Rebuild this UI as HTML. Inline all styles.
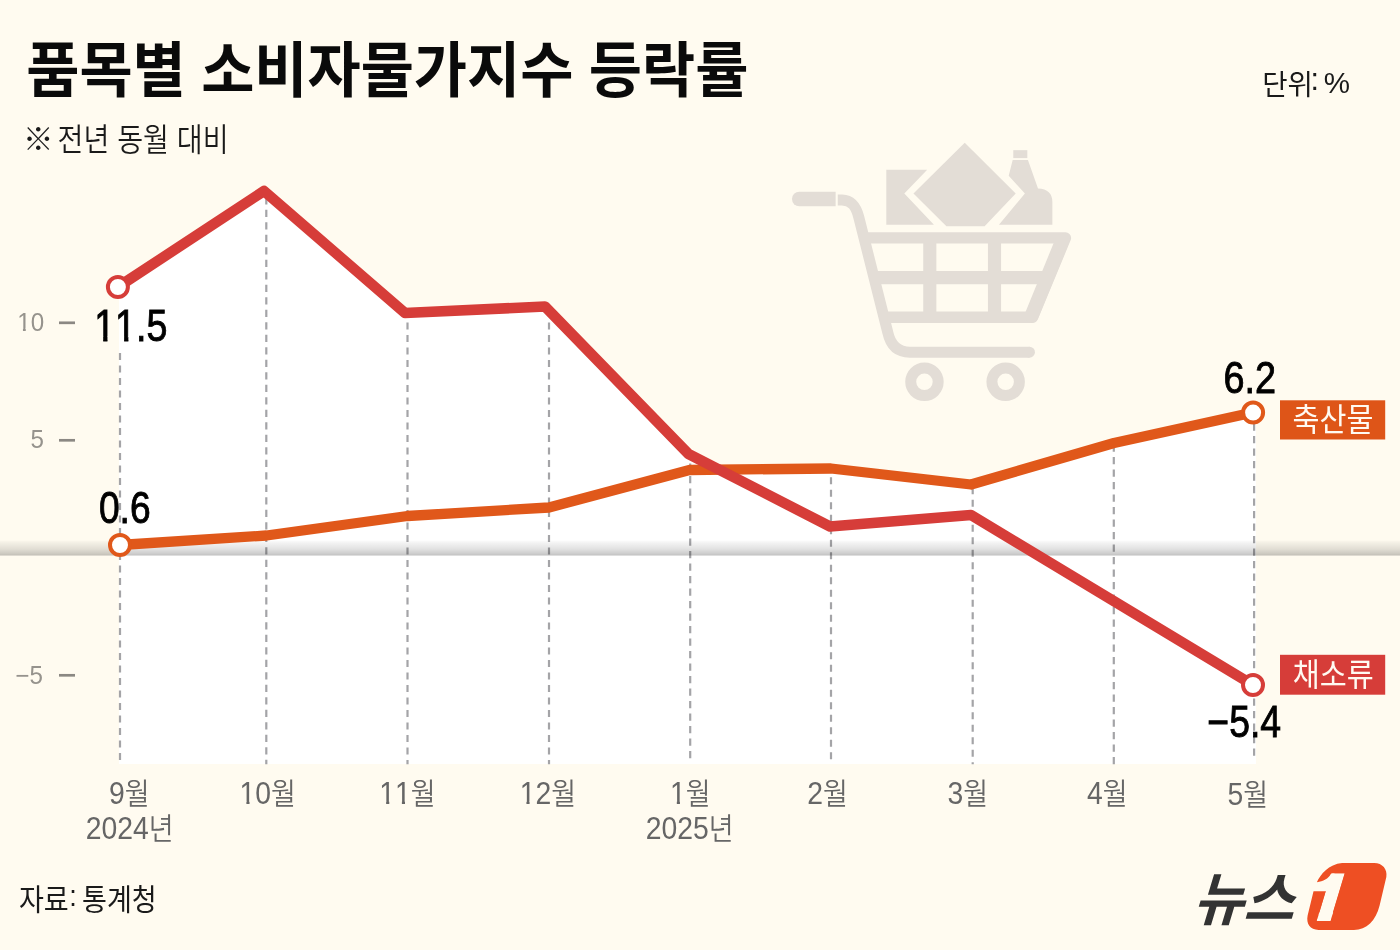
<!DOCTYPE html>
<html lang="ko">
<head>
<meta charset="utf-8">
<title>품목별 소비자물가지수 등락률</title>
<style>
  html, body { margin: 0; padding: 0; }
  body { width: 1400px; height: 950px; overflow: hidden; background: #fffbf0; }
  svg { display: block; }
  text { font-family: "Liberation Sans", "Noto Sans CJK KR", sans-serif; }
  .title { font-weight: 700; font-size: 60.8px; fill: #0a0a0a; word-spacing: -0.7px; }
  .sub { font-weight: 350; font-size: 32px; fill: #1a1a1a; }
  .unit { font-weight: 400; font-size: 28px; fill: #1a1a1a; }
  .src { font-weight: 400; font-size: 29.3px; fill: #1a1a1a; }
  .val { font-kerning: none; font-size: 44px; fill: #000; stroke: #000; stroke-width: 0.9px; }
  .ylab { font-kerning: none; font-size: 25.2px; fill: #96938d; }
  .xlab { font-kerning: none; font-size: 30px; fill: #666; font-weight: 350; }
  .xlab .d { font-size: 31.5px; font-weight: 400; }
  .tag { font-size: 31.8px; fill: #fffaf2; font-weight: 400; }
</style>
</head>
<body>
<svg width="1400" height="950" viewBox="0 0 1400 950">
  <defs>
    <linearGradient id="band" x1="0" y1="0" x2="0" y2="1">
      <stop offset="0" stop-color="#000" stop-opacity="0"/>
      <stop offset="0.12" stop-color="#000" stop-opacity="0.035"/>
      <stop offset="0.6" stop-color="#000" stop-opacity="0.12"/>
      <stop offset="0.92" stop-color="#000" stop-opacity="0.21"/>
      <stop offset="1" stop-color="#000" stop-opacity="0.26"/>
    </linearGradient>
    <clipPath id="cx10"><polygon points="-120.00,-60.00 140.00,-60.00 140.00,20.00 -13.79,20.00 -13.79,-3.35 -20.25,-3.35 -20.25,20.00 -23.73,20.00 -23.73,-3.35 -31.30,-3.35 -31.30,20.00 -120.00,20.00"/></clipPath>
    <clipPath id="cx11"><polygon points="-120.00,-60.00 140.00,-60.00 140.00,20.00 3.72,20.00 3.72,-3.35 -2.74,-3.35 -2.74,20.00 -6.23,20.00 -6.23,-3.35 -13.80,-3.35 -13.80,20.00 -13.79,20.00 -13.79,-3.35 -20.25,-3.35 -20.25,20.00 -23.73,20.00 -23.73,-3.35 -31.30,-3.35 -31.30,20.00 -120.00,20.00"/></clipPath>
    <clipPath id="cx1"><polygon points="-120.00,-60.00 140.00,-60.00 140.00,20.00 -5.03,20.00 -5.03,-3.35 -11.50,-3.35 -11.50,20.00 -14.98,20.00 -14.98,-3.35 -22.55,-3.35 -22.55,20.00 -120.00,20.00"/></clipPath>
    <clipPath id="cy10"><polygon points="-120.00,-60.00 140.00,-60.00 140.00,20.00 14.02,20.00 14.02,-2.68 8.91,-2.68 8.91,20.00 5.99,20.00 5.99,-2.68 0.00,-2.68 0.00,20.00 -120.00,20.00"/></clipPath>
  </defs>

  <rect id="bg" x="0" y="0" width="1400" height="950" fill="#fffbf0"/>

  <!-- white plot area under the upper envelope of both series -->
  <polygon id="plot" fill="#ffffff"
    points="119,287 264,191 405,313 545,306.5 688.5,454 719.1,469.7 831,468.5 971,484.5 1114,443 1256,412.5 1256,764 119,764"/>

  <!-- shopping cart watermark -->
  <g id="cart" transform="translate(770,130) scale(0.30525)" fill="#e3ddd6" stroke="none">
    <path d="M96,202 H215 V250 H96 A24,24 0 0 1 96,202 Z"/>
    <path d="M222,229 H236 C268,230 282,250 291,286 L386,664 Q400,728 458,728 H850" fill="none" stroke="#e3ddd6" stroke-width="36" stroke-linecap="butt" stroke-linejoin="round"/>
    <circle cx="850" cy="728" r="18"/>
    <path d="M312,353.5 H968 L860,613.5 H384" fill="none" stroke="#e3ddd6" stroke-width="37" stroke-linejoin="round" stroke-linecap="butt"/>
    <path d="M345,483.5 H905 M523.5,365 V600 M735.5,365 V600" fill="none" stroke="#e3ddd6" stroke-width="43"/>
    <path d="M958,361 L857,608" fill="none" stroke="#e3ddd6" stroke-width="46" stroke-linecap="round"/>
    <circle cx="506" cy="825" r="45" fill="none" stroke="#e3ddd6" stroke-width="36"/>
    <circle cx="772" cy="825" r="45" fill="none" stroke="#e3ddd6" stroke-width="36"/>
    <polygon points="381,130 515,130 440,208 537,310 381,310"/>
    <polygon points="638,42 805,208 703,315 578,315 470,208"/>
    <rect x="797" y="66" width="46" height="26"/>
    <path d="M795,98 H845 L878,192 Q925,194 925,236 V310 H750 L835,208 L782,150 Z"/>
  </g>

  <!-- dashed month guides -->
  <g id="guides" stroke="#a4a4a7" stroke-width="2.2" stroke-dasharray="7.1 5.4" fill="none">
    <line x1="120" y1="353" x2="120" y2="762"/>
    <line x1="266.3" y1="197.3" x2="266.3" y2="764.3"/>
    <line x1="407.5" y1="322.5" x2="407.5" y2="764.3"/>
    <line x1="549" y1="309.9" x2="549" y2="764.3"/>
    <line x1="690.2" y1="463.6" x2="690.2" y2="762"/>
    <line x1="831" y1="464.7" x2="831" y2="764.3"/>
    <line x1="972.7" y1="487.2" x2="972.7" y2="764.3"/>
    <line x1="1113.8" y1="444.6" x2="1113.8" y2="764.3"/>
    <line x1="1254.1" y1="423.6" x2="1254.1" y2="757"/>
  </g>

  <!-- zero baseline band -->
  <rect id="zero" x="0" y="540" width="1400" height="15.5" fill="url(#band)"/>

  <!-- series -->
  <polyline id="meat" fill="none" stroke="#e0581a" stroke-width="10.3" stroke-linejoin="round"
    points="120,545 266.5,535.5 407.5,516 549,507.5 689.5,470 831,468.5 971,484.5 1114,443 1253,412.5"/>
  <polyline id="veg" fill="none" stroke="#d63d39" stroke-width="10.5" stroke-linejoin="round"
    points="117.9,287 264,191 405,313 545,306.5 688.5,454 830,526.5 971,515 1112,600 1253,685"/>

  <g id="dots" fill="#ffffff" stroke-width="4">
    <circle cx="117.9" cy="287" r="10" stroke="#d63d39"/>
    <circle cx="1253" cy="685" r="10" stroke="#d63d39"/>
    <circle cx="120" cy="545" r="10" stroke="#e0581a"/>
    <circle cx="1253.1" cy="412.6" r="10" stroke="#e0581a"/>
  </g>

  <!-- series tags -->
  <rect x="1280" y="400.3" width="105.2" height="39.2" fill="#de5518"/>
  <text class="tag" transform="translate(1292.6,430.6) scale(0.922,1)">축산물</text>
  <rect x="1280" y="654.8" width="105.2" height="39.9" fill="#d63d39"/>
  <text class="tag" transform="translate(1292.8,685.9) scale(0.922,1)">채소류</text>

  <!-- value labels -->
  <clipPath id="c115"><polygon points="-120.00,-60.00 140.00,-60.00 140.00,20.00 48.94,20.00 48.94,-4.49 39.97,-4.49 39.97,20.00 34.99,20.00 34.99,-4.49 24.47,-4.49 24.47,20.00 24.47,-4.49 15.50,-4.49 15.50,20.00 10.51,20.00 10.51,-4.49 0.00,-4.49 0.00,20.00 -120.00,20.00"/></clipPath>
  <g class="val">
    <text transform="translate(94.2,340.9) scale(0.855,1)" clip-path="url(#c115)">11.5</text>
    <text transform="translate(98.9,522.7) scale(0.845,1)">0.6</text>
    <text transform="translate(1223.4,393.3) scale(0.86,1)">6.2</text>
    <text transform="translate(1207.3,737.3) scale(0.85,1)">−5.4</text>
  </g>

  <!-- y axis -->
  <g class="ylab">
    <text transform="translate(17.2,330.7) scale(0.96,1)" clip-path="url(#cy10)">10</text>
    <text transform="translate(30.6,448.2) scale(0.96,1)">5</text>
    <text transform="translate(15.5,683.7) scale(0.96,1)">−5</text>
  </g>
  <g stroke="#8b8883" stroke-width="2.7">
    <line x1="59" y1="322.8" x2="75" y2="322.8"/>
    <line x1="59" y1="440.3" x2="75" y2="440.3"/>
    <line x1="59" y1="675.3" x2="75" y2="675.3"/>
  </g>

  <!-- x axis -->
  <g class="xlab" text-anchor="middle">
    <text transform="translate(129.25,804.4) scale(0.9,1)"><tspan class="d">9</tspan>월</text>
    <text transform="translate(129.65,839.4) scale(0.9,1)"><tspan class="d">2024</tspan>년</text>
    <text transform="translate(267.75,804.4) scale(0.9,1)" clip-path="url(#cx10)"><tspan class="d">10</tspan>월</text>
    <text transform="translate(407.5,804.4) scale(0.9,1)" clip-path="url(#cx11)"><tspan class="d">11</tspan>월</text>
    <text transform="translate(547.8,804.4) scale(0.9,1)" clip-path="url(#cx10)"><tspan class="d">12</tspan>월</text>
    <text transform="translate(690.3,804.4) scale(0.9,1)" clip-path="url(#cx1)"><tspan class="d">1</tspan>월</text>
    <text transform="translate(689.65,839.4) scale(0.9,1)"><tspan class="d">2025</tspan>년</text>
    <text transform="translate(827.5,804.4) scale(0.9,1)"><tspan class="d">2</tspan>월</text>
    <text transform="translate(967.75,804.4) scale(0.9,1)"><tspan class="d">3</tspan>월</text>
    <text transform="translate(1107.25,804.4) scale(0.9,1)"><tspan class="d">4</tspan>월</text>
    <text transform="translate(1247.7,804.9) scale(0.9,1)"><tspan class="d">5</tspan>월</text>
  </g>

  <!-- headings -->
  <text class="title" transform="translate(26.2,92.3) scale(0.951,1)">품목별 소비자물가지수 등락률</text>
  <text class="sub" transform="translate(23,150.4) scale(1.0,1)" style="font-size:30.5px">※</text>
  <text class="sub" transform="translate(57.6,150.6) scale(0.88,1)">전년 동월 대비</text>
  <text class="unit" transform="translate(1262.2,95.2) scale(0.985,1)">단위<tspan dy="-5" dx="-2.5" style="font-size:31px">:</tspan><tspan dy="2.4" dx="-3.5" style="font-size:30px"> %</tspan></text>
  <text class="src" transform="translate(18.9,910.3) scale(0.925,1)">자료<tspan dy="-4.5" dx="0.5">:</tspan><tspan dy="4.5" dx="-2.5"> 통계청</tspan></text>

  <!-- logo -->
  <g id="logo">
    <text transform="translate(1192.4,919.5) scale(0.956,1) skewX(-17.5)" font-size="57.5" font-weight="700" fill="#333333">뉴스</text>
    <g transform="translate(1295,855) scale(0.084175)">
      <path d="M220,430 L150,720 C130,820 180,890 280,890 L700,890 C850,890 960,780 1005,600 L1085,260 C1100,170 1040,95 940,95 L560,95 C400,110 300,230 260,325 C335,312 395,285 430,220 L470,220 L407,430 Z" fill="#ee4f23"/>
    </g>
    <clipPath id="one-clip"><polygon points="14.3,-47 25.6,-47 25.6,1.1 14.3,1.1"/></clipPath>
    <text transform="translate(1299.6,920.1) skewX(-16.75) scale(1.217,1)" clip-path="url(#one-clip)" font-size="66.2" font-weight="700" fill="#fffbf0" stroke="#fffbf0" stroke-width="2" stroke-linejoin="miter">1</text>
  </g>
</svg>
</body>
</html>
